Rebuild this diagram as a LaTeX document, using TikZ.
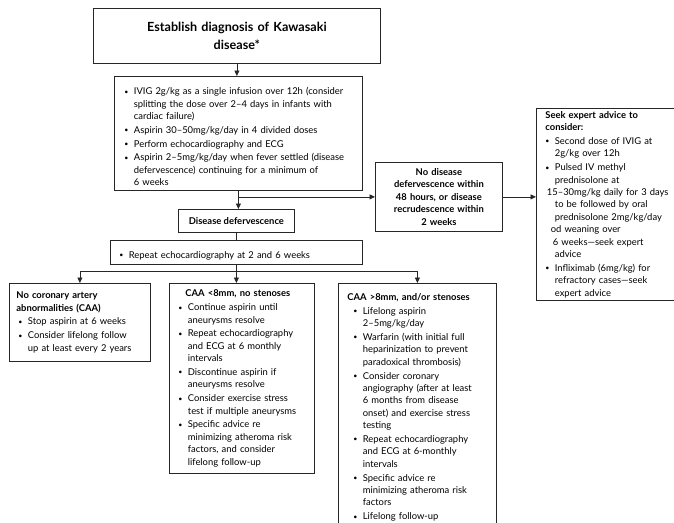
\documentclass[tikz,border=0pt]{standalone}
\usepackage{fontspec}
\setmainfont{Lato}
\usetikzlibrary{arrows.meta,calc}
\newcommand\bodyfont{\fontsize{9.4}{12.4}\selectfont}
\newcommand\titlefont{\fontsize{12.6}{18}\selectfont\bfseries}
\newcommand\setpar{\parindent=0pt\rightskip=0pt plus 1fil\relax}
\newcommand\itmind{0pt}
\newcommand\itm{\par\vspace{1.4pt}\hangindent=\dimexpr9.5pt+\itmind\relax\hangafter=1\noindent\hspace*{\itmind}\makebox[9.5pt][l]{\raisebox{0.6pt}{\scalebox{0.75}{\textbullet}}}}
\newcommand\nl{\newline}
\tikzset{
  box/.style={draw=black!85, line width=0.8pt, anchor=north west, font=\bodyfont, inner ysep=3pt},
  listbox/.style={box, inner xsep=#1},
  cbox/.style={box, align=center, inner xsep=3pt},
  arr/.style={-{Triangle[length=5.5pt,width=5pt]}, line width=0.8pt, draw=black!85},
  ln/.style={line width=0.8pt, draw=black!85}
}
\begin{document}
\begin{tikzpicture}[x=1pt,y=-1pt]
\useasboundingbox (0,0) rectangle (674,522);
\clip (0,0) rectangle (674,522);
\fill[white] (0,0) rectangle (674,522);

\node[cbox, font=\titlefont, minimum width=287pt, minimum height=55pt, text width=270pt] (top) at (93,8)
  {Establish diagnosis of Kawasaki\\disease*};

\node[listbox=10pt, minimum width=248pt, minimum height=114pt, text width=228pt] (b2) at (114,76)
  {\setpar
   \itm IVIG 2g/kg as a single infusion over 12h (consider\nl splitting the dose over 2--4 days in infants with\nl cardiac failure)
   \itm Aspirin 30--50mg/kg/day in 4 divided doses
   \itm Perform echocardiography and ECG
   \itm Aspirin 2--5mg/kg/day when fever settled (disease\nl defervescence) continuing for a minimum of\nl 6 weeks\par};

\node[cbox, font=\bodyfont\bfseries, minimum width=116pt, minimum height=23pt] (dd) at (178,209)
  {Disease defervescence};

\node[listbox=9pt, minimum width=252pt, minimum height=24pt, text width=234pt] (rep) at (110,240)
  {\setpar\itm Repeat echocardiography at 2 and 6 weeks\par};

\node[cbox, font=\bodyfont\bfseries, minimum width=127pt, minimum height=69pt, text width=121pt] (nodis) at (375,162)
  {No disease\\defervescence within\\48 hours, or disease\\recrudescence within\\2 weeks};

\node[listbox=9pt, minimum width=170pt, minimum height=192pt, text width=152pt] (seek) at (536,108)
  {\setpar{\bfseries Seek expert advice to\nl consider:}
   \itm Second dose of IVIG at\nl 2g/kg over 12h
   \itm Pulsed IV methyl\nl prednisolone at\nl \hspace*{-8pt}15--30mg/kg daily for 3 days\nl to be followed by oral\nl prednisolone 2mg/kg/day\nl \hspace*{-4pt}od weaning over\nl \hspace*{-2pt}6 weeks---seek expert\nl advice
   \itm Infliximab (6mg/kg) for\nl refractory cases---seek\nl expert advice\par};

\node[listbox=7pt, minimum width=141pt, minimum height=78pt, text width=127pt] (L) at (9,283)
  {\setpar\renewcommand\itmind{2pt}{\bfseries No coronary artery\nl abnormalities (CAA)}
   \itm Stop aspirin at 6 weeks
   \itm Consider lifelong follow\nl up at least every 2 years\par};

\node[listbox=9pt, minimum width=145pt, minimum height=190pt, text width=127pt] (M) at (169,283)
  {\setpar\hspace*{7pt}{\bfseries CAA <8mm, no stenoses}
   \itm Continue aspirin until\nl aneurysms resolve
   \itm Repeat echocardiography\nl and ECG at 6 monthly\nl intervals
   \itm Discontinue aspirin if\nl aneurysms resolve
   \itm Consider exercise stress\nl test if multiple aneurysms
   \itm Specific advice re\nl minimizing atheroma risk\nl factors, and consider\nl lifelong follow-up\par};

\node[listbox=9pt, minimum width=158pt, minimum height=248pt, text width=140pt] (R) at (338,283)
  {\setpar\renewcommand\itmind{6pt}{\bfseries CAA >8mm, and/or stenoses}
   \itm Lifelong aspirin\nl 2--5mg/kg/day
   \itm Warfarin (with initial full\nl heparinization to prevent\nl paradoxical thrombosis)
   \itm Consider coronary\nl angiography (after at least\nl 6 months from disease\nl onset) and exercise stress\nl testing
   \itm Repeat echocardiography\nl and ECG at 6-monthly\nl intervals
   \itm Specific advice re\nl minimizing atheroma risk\nl factors
   \itm Lifelong follow-up\par\vspace{14pt}};

\draw[arr] (top.south) -- (top.south |- b2.north);
\draw[arr] (b2.south) -- (b2.south |- dd.north);
\draw[arr] (b2.south |- nodis.west) -- (nodis.west);
\draw[arr] (nodis.east) -- (seek.west |- nodis.east);
\draw[ln] (dd.south) -- (dd.south |- rep.north);
\coordinate (j) at ($(rep.south)+(0,7)$);
\draw[arr] (rep.south) -- (rep.south |- M.north);
\draw[arr] (j) -| (L.north);
\draw[arr] (j) -| (R.north);
\end{tikzpicture}
\end{document}
